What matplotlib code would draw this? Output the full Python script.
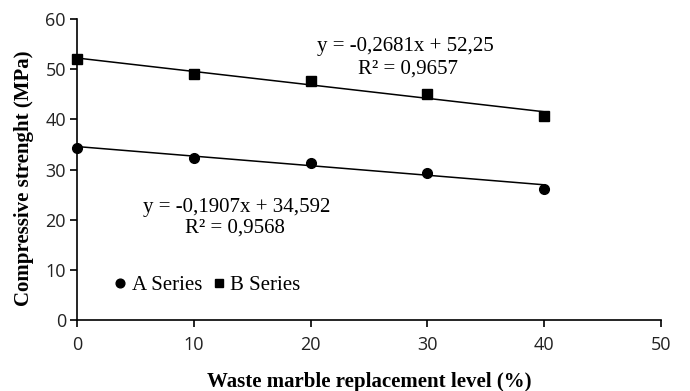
import numpy as np
import matplotlib.pyplot as plt

# replacement level (%) and compressive strength (MPa)
levels = [0, 10, 20, 30, 40]
a_series = [34.3, 32.4, 31.3, 29.4, 26.2]
b_series = [52.0, 49.0, 47.6, 45.0, 40.6]

# trendline coefficients (slope, intercept) and R2 as printed on the chart
a_fit = (-0.1907, 34.592)
b_fit = (-0.2681, 52.25)
a_eq = ["y = -0,1907x + 34,592", "R² = 0,9568"]
b_eq = ["y = -0,2681x + 52,25", "R² = 0,9657"]

serif = "Liberation Serif"
sans = "Open Sans"

fig = plt.figure(figsize=(6.9, 3.91), dpi=100)
ax = fig.add_axes([0.1116, 0.1816, 0.8464, 0.7694])

xs = np.array([levels[0], levels[-1]])
ax.plot(xs, a_fit[0] * xs + a_fit[1], color="black", lw=1.1)
ax.plot(xs, b_fit[0] * xs + b_fit[1], color="black", lw=1.1)
ax.plot(levels, a_series, "o", color="black", ms=7, label="A Series", clip_on=False)
ax.plot(levels, b_series, "s", color="black", ms=7, label="B Series", clip_on=False)

ax.set_xlim(0, 50)
ax.set_ylim(0, 60)
ax.set_xticks(range(0, 51, 10))
ax.set_yticks(range(0, 61, 10))
for s in ["top", "right"]:
    ax.spines[s].set_visible(False)
for s in ["left", "bottom"]:
    ax.spines[s].set_linewidth(1.2)
ax.tick_params(direction="out", length=5, width=1.2, labelsize=13, colors="black")
ax.tick_params(axis="x", pad=6.5)
ax.tick_params(axis="y", pad=3)
for lab in ax.get_xticklabels() + ax.get_yticklabels():
    lab.set_family(sans)
    lab.set_color("#222222")

ax.set_xlabel("Waste marble replacement level (%)", family=serif, fontweight="bold",
              fontsize=15)
ax.set_ylabel("Compressive strenght (MPa)", family=serif, fontweight="bold",
              fontsize=15)
ax.xaxis.set_label_coords(0.5, -0.172)
ax.yaxis.set_label_coords(-0.073, 0.47)

ax.text(28.1, 54.6, b_eq[0], family=serif, fontsize=15, ha="center", va="center")
ax.text(28.3, 50.0, b_eq[1], family=serif, fontsize=15, ha="center", va="center")
ax.text(13.7, 22.5, a_eq[0], family=serif, fontsize=15, ha="center", va="center")
ax.text(13.5, 18.3, a_eq[1], family=serif, fontsize=15, ha="center", va="center")

ax.legend(loc="center left", bbox_to_anchor=(0.0565, 0.116), ncol=2, frameon=False,
          borderpad=0, borderaxespad=0, handletextpad=0.05, columnspacing=0.3,
          handlelength=1.0, markerscale=0.9, prop={"family": serif, "size": 15})

fig.savefig("out.png", dpi=100)
